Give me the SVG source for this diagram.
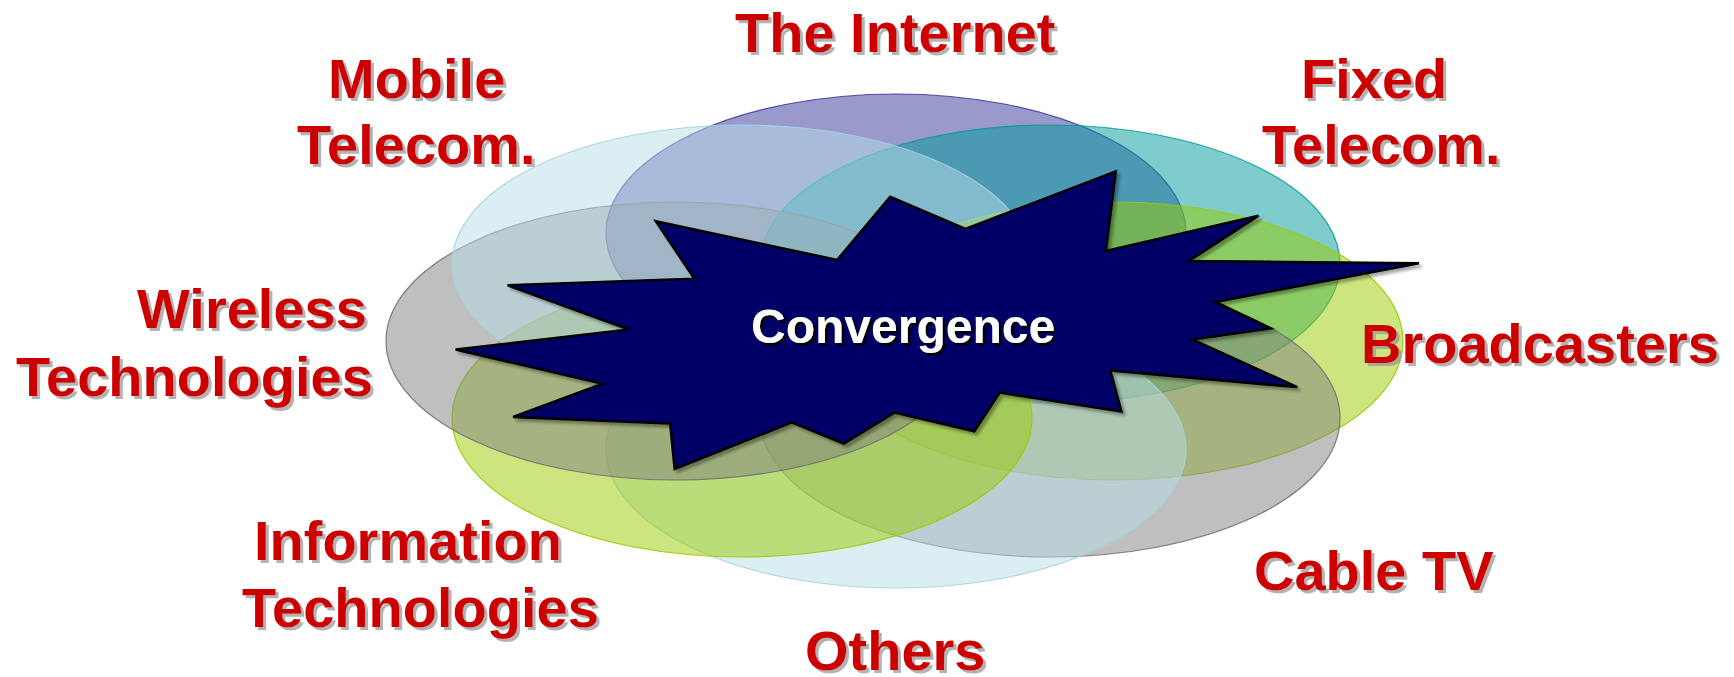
<svg xmlns="http://www.w3.org/2000/svg" width="1734" height="677" viewBox="0 0 1734 677">
  <style>
    .lbl { font-family: "Liberation Sans", Arial, sans-serif; font-weight: bold; font-size: 56px; fill: #CC0000; filter: url(#tshadow); }
    .conv { font-family: "Liberation Sans", Arial, sans-serif; font-weight: bold; font-size: 48px; fill: #FFFFFF; filter: url(#cshadow); }
    .ell { stroke-width: 1.2; }
    .purple { fill: #333399; fill-opacity: 0.5; stroke: #333399; stroke-opacity: 0.85; }
    .teal { fill: #009999; fill-opacity: 0.5; stroke: #009999; stroke-opacity: 0.85; }
    .green { fill: #99CC00; fill-opacity: 0.5; stroke: #99CC00; stroke-opacity: 0.9; }
    .gray { fill: #808080; fill-opacity: 0.5; stroke: #707070; stroke-opacity: 0.9; }
    .cyan { fill: #B6DDE8; fill-opacity: 0.5; stroke: #A6D3DE; stroke-opacity: 0.9; }
    .star { fill: #000066; stroke: #000000; stroke-width: 2.5; stroke-linejoin: miter; filter: url(#sshadow); }
  </style>
  <defs>
    <filter id="tshadow" x="-10%" y="-20%" width="120%" height="150%">
      <feDropShadow dx="3" dy="3" stdDeviation="0.6" flood-color="#9A9A9A" flood-opacity="0.75"/>
    </filter>
    <filter id="cshadow" x="-10%" y="-20%" width="120%" height="150%">
      <feDropShadow dx="2.5" dy="2.5" stdDeviation="0.4" flood-color="#000000" flood-opacity="1"/>
    </filter>
    <filter id="sshadow" x="-10%" y="-10%" width="120%" height="130%">
      <feDropShadow dx="3" dy="3" stdDeviation="1.5" flood-color="#000000" flood-opacity="0.35"/>
    </filter>
  </defs>

  <g id="ellipses">
    <ellipse id="e-internet" class="ell purple" cx="896" cy="233" rx="290" ry="139"/>
    <ellipse id="e-fixed" class="ell teal" cx="1050" cy="264" rx="290" ry="139"/>
    <ellipse id="e-broadcasters" class="ell green" cx="1113" cy="341" rx="290" ry="139"/>
    <ellipse id="e-cable" class="ell gray" cx="1050" cy="418" rx="290" ry="139"/>
    <ellipse id="e-others" class="ell cyan" cx="896" cy="449" rx="290" ry="139"/>
    <ellipse id="e-it" class="ell green" cx="742" cy="418" rx="290" ry="139"/>
    <ellipse id="e-wireless" class="ell gray" cx="676" cy="341" rx="290" ry="139"/>
    <ellipse id="e-mobile" class="ell cyan" cx="742" cy="264" rx="290" ry="139"/>
  </g>

  <g id="convergence">
    <polygon class="star" points="655.8,221.2 837.2,259.9 890.2,196.8 965.4,228.9 1115.8,171.4 1105.9,251 1258.5,215.6 1188.8,261 1418.9,263.2 1215.4,301.9 1270.7,328.4 1192.2,339.5 1297.2,387.1 1110.3,370.5 1121.4,411.4 999.7,392.6 974.3,431.3 894.7,412.5 843.8,443.5 791.8,422.4 674.6,468.9 670.2,423.6 513.1,416.9 602.7,383.7 455.6,349.5 629.2,329.6 507.6,285.3 694.5,278.7"/>
    <text class="conv" x="751" y="343">Convergence</text>
  </g>

  <g id="label-internet"><text class="lbl" x="735" y="52">The Internet</text></g>
  <g id="label-mobile">
    <text class="lbl" x="328" y="98">Mobile</text>
    <text class="lbl" x="297" y="164">Telecom.</text>
  </g>
  <g id="label-fixed">
    <text class="lbl" x="1301" y="98">Fixed</text>
    <text class="lbl" x="1262" y="164">Telecom.</text>
  </g>
  <g id="label-wireless">
    <text class="lbl" x="137" y="328">Wireless</text>
    <text class="lbl" x="16" y="396">Technologies</text>
  </g>
  <g id="label-broadcasters"><text class="lbl" x="1361" y="363">Broadcasters</text></g>
  <g id="label-it">
    <text class="lbl" x="254" y="560">Information</text>
    <text class="lbl" x="242" y="627">Technologies</text>
  </g>
  <g id="label-cable"><text class="lbl" x="1254" y="590">Cable TV</text></g>
  <g id="label-others"><text class="lbl" x="805" y="670">Others</text></g>
</svg>
